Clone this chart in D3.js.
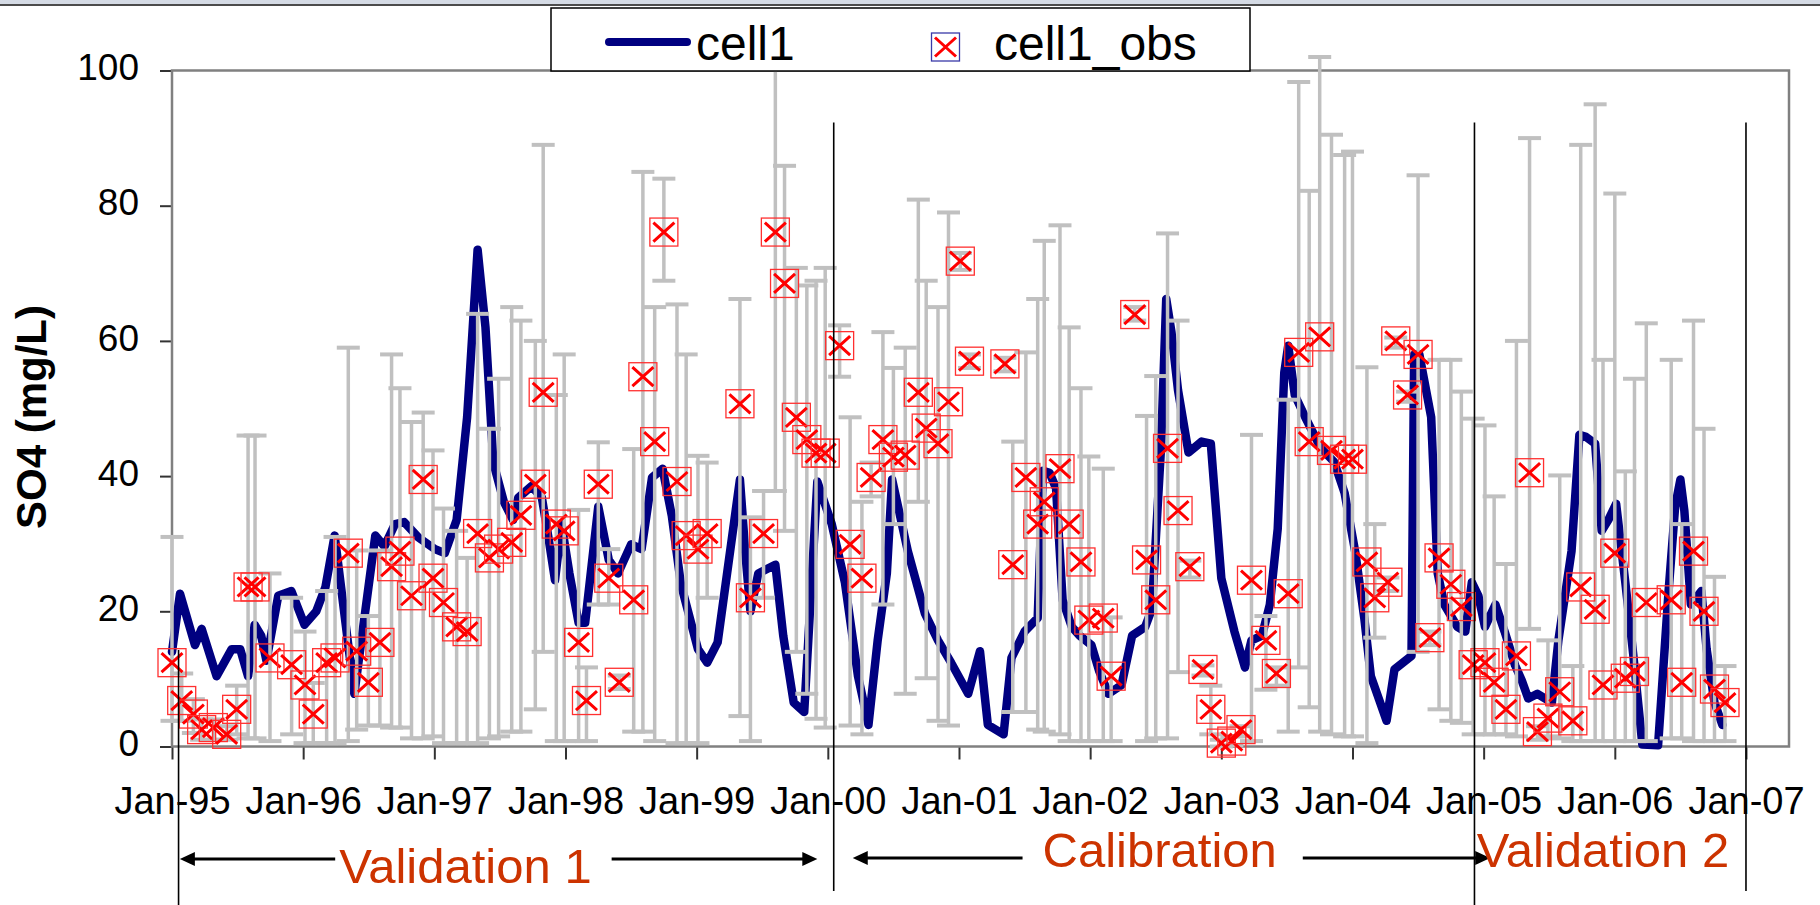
<!DOCTYPE html>
<html>
<head>
<meta charset="utf-8">
<script src="https://cdn.jsdelivr.net/npm/d3@7/dist/d3.min.js"></script>
<style>
  body { margin: 0; background: #fff; }
  svg { display: block; font-family: "Liberation Sans", Arial, sans-serif; }
</style>
</head>
<body>
<script>
// time is in years since Jan-95, values are SO4 in mg/L

// simulated series "cell1"
var modelT = [0.0, 0.061, 0.175, 0.226, 0.34, 0.455, 0.52, 0.58, 0.63, 0.68, 0.72, 0.81, 0.91, 1.01, 1.1, 1.17, 1.24,
  1.39, 1.55, 1.62, 1.7, 1.77, 1.88, 2.005, 2.08, 2.17, 2.25, 2.33, 2.39, 2.45, 2.53, 2.6, 2.64, 2.74, 2.82, 2.87,
  2.92, 2.97, 3.03, 3.1, 3.15, 3.25, 3.33, 3.4, 3.5, 3.58, 3.66, 3.74, 3.81, 3.88, 4.01, 4.08, 4.16, 4.33, 4.37,
  4.41, 4.47, 4.6, 4.66, 4.74, 4.82, 4.92, 5.03, 5.13, 5.23, 5.31, 5.38, 5.45, 5.49, 5.61, 5.74, 5.84, 5.94, 6.07,
  6.16, 6.22, 6.34, 6.4, 6.5, 6.6, 6.64, 6.69, 6.74, 6.79, 6.86, 6.92, 7.01, 7.07, 7.14, 7.24, 7.32, 7.42, 7.47,
  7.54, 7.58, 7.62, 7.67, 7.75, 7.85, 7.92, 8.0, 8.1, 8.18, 8.23, 8.31, 8.37, 8.43, 8.48, 8.51, 8.56, 8.64, 8.76,
  8.86, 8.94, 9.02, 9.09, 9.14, 9.26, 9.32, 9.45, 9.47, 9.51, 9.6, 9.65, 9.7, 9.8, 9.86, 9.91, 9.96, 10.01, 10.09,
  10.16, 10.24, 10.29, 10.34, 10.41, 10.52, 10.57, 10.67, 10.73, 10.78, 10.85, 10.9, 10.95, 11.01, 11.08, 11.14,
  11.21, 11.33, 11.41, 11.46, 11.5, 11.53, 11.58, 11.66, 11.7, 11.76, 11.82];
var modelV = [14, 22.6, 15, 17.4, 10.4, 14.4, 14.4, 10.4, 18, 16.4, 12.7, 22.3, 23, 18, 20, 23.6, 31.2,
  7.8, 31.2, 29.6, 32.9, 33.2, 30.9, 29.2, 28.6, 33.5, 48.7, 73.5, 62, 42, 36.2, 33.5, 36.8, 38.5, 36.8, 30.9,
  24.6, 32.9, 25.6, 18.3, 18.3, 35.5, 27.6, 25.6, 29.9, 29.2, 39.8, 41.1, 34.2, 24, 14.4, 12.4, 15.4, 39.5, 28.9,
  20, 25.6, 26.9, 16.4, 6.5, 5.1, 39.2, 32.9, 24.3, 10.4, 3.2, 15.7, 25.6, 39.5, 28.9, 19.7, 15.7, 12.4, 7.8,
  14.1, 3.2, 1.8, 13.1, 17, 19, 40.8, 40.5, 38.2, 21.7, 17.7, 16.4, 15, 11.1, 7.8, 9.1, 16.4, 17.7, 20.3,
  44.1, 66.2, 61.3, 52.7, 43.5, 45.1, 44.8, 24.9, 17, 11.7, 15.7, 16.4, 21, 32.2, 55.3, 59.3, 52, 48.7, 44.1,
  42.1, 37.5, 28.9, 19, 10.4, 3.8, 11.4, 13.4, 58, 58, 48.7, 25.6, 21, 17.7, 17, 24.3, 22.3, 17.7, 21,
  17, 12, 9.8, 7.1, 7.8, 6.5, 15.7, 28.9, 46.1, 45.8, 44.8, 31.9, 33.5, 35.9, 24.3, 13.7,
  0.3, 0.2, 23, 35.5, 39.5, 34.9, 21, 23, 14.4, 6.5, 3.2];

// observed series "cell1_obs" with error bar ends
var obsT = [0.0, 0.074, 0.163, 0.226, 0.315, 0.417, 0.493, 0.58, 0.633, 0.747, 0.912, 1.014, 1.077, 1.179, 1.243,
  1.344, 1.408, 1.497, 1.585, 1.674, 1.738, 1.826, 1.915, 1.99, 2.07, 2.17, 2.25, 2.33, 2.42, 2.49, 2.59, 2.66,
  2.77, 2.83, 2.93, 2.99, 3.1, 3.16, 3.25, 3.33, 3.41, 3.52, 3.59, 3.68, 3.75, 3.85, 3.92, 4.01, 4.08, 4.33, 4.41,
  4.51, 4.6, 4.67, 4.76, 4.84, 4.91, 4.98, 5.09, 5.17, 5.26, 5.33, 5.42, 5.5, 5.59, 5.69, 5.75, 5.84, 5.92, 6.01,
  6.08, 6.35, 6.41, 6.51, 6.6, 6.65, 6.77, 6.84, 6.93, 6.99, 7.1, 7.16, 7.34, 7.43, 7.5, 7.59, 7.67, 7.76, 7.86,
  7.92, 8.0, 8.08, 8.15, 8.23, 8.34, 8.42, 8.51, 8.59, 8.67, 8.75, 8.84, 8.94, 9.0, 9.11, 9.17, 9.27, 9.33, 9.42,
  9.5, 9.59, 9.66, 9.75, 9.83, 9.92, 10.01, 10.08, 10.17, 10.25, 10.35, 10.41, 10.49, 10.58, 10.68, 10.74, 10.85,
  10.91, 11.0, 11.08, 11.15, 11.24, 11.43, 11.51, 11.6, 11.68, 11.76, 11.84];
var obsV = [12.4, 6.8, 4.8, 2.5, 2.8, 1.8, 5.5, 23.6, 23.6, 13.1, 12.1, 9.1, 4.8, 12.4, 13.1,
  28.6, 14.1, 9.5, 15.4, 26.6, 28.9, 22.3, 39.5, 24.9, 21.3, 17.7, 17, 31.5, 27.9, 29.2, 30.2, 34.2,
  38.8, 52.4, 32.9, 31.9, 15.4, 6.8, 38.8, 24.9, 9.5, 21.7, 54.7, 45.1, 76.1, 39.2, 31.2, 29.2, 31.5, 50.7, 22,
  31.5, 76.1, 68.5, 48.7, 45.4, 43.4, 43.4, 59.3, 29.9, 24.9, 39.8, 45.4, 42.8, 43.1, 52.4, 47.1, 44.8, 51, 71.8,
  57, 56.6, 26.9, 39.8, 32.9, 36.2, 41.1, 32.9, 27.3, 18.7, 19, 10.4, 63.9, 27.6, 21.7, 44.1, 34.9, 26.6, 11.4,
  5.5, 0.5, 0.8, 2.5, 24.6, 15.7, 10.8, 22.6, 58.3, 45.1, 60.6, 43.8, 42.5, 42.5, 27.3, 22, 24.3, 60, 52,
  58, 16.1, 27.9, 24, 20.7, 12.1, 12.4, 9.5, 5.5, 13.4, 40.5, 2.2, 4.2, 8.1, 3.8, 23.6, 20.3,
  9.1, 28.6, 10.1, 11.1, 21.3, 21.7, 9.5, 28.9, 20, 8.5, 6.5];
var obsHi = [31, 10.8, 7, 4, 4, 3, 9, 46, 46, 25.6, 22, 17, 9.4, 23, 31,
  59, 29, 19.3, 29, 58, 53, 48, 49.4, 43.8, 35.2, 31.9, 27.9, 64, 47, 54.4, 65, 63,
  60, 89, 52, 58, 35, 11.7, 45, 29.2, 10.5, 44, 85, 65, 84, 65.4, 58, 43, 42, 66.2, 33.9,
  37.8, 100.5, 85.9, 70.8, 68.2, 68.9, 70.8, 62.3, 48.7, 36.2, 42, 61.3, 56, 59, 80.9, 68.9, 65, 79, 73,
  58, 57.5, 45.1, 58.3, 66.2, 74.8, 77.1, 62, 53, 42.9, 41.1, 19.1, 65, 48.9, 54.8, 75.9, 63, 27.5, 12,
  9, 1, 1.5, 3, 46.1, 19.3, 11.7, 51.3, 98.3, 82.2, 102, 90.5, 87.5, 88, 56.1, 32.9, 25, 60.5, 52.5,
  84.5, 17, 57.2, 57.2, 52.5, 48.5, 47.5, 37, 27, 60, 90, 3, 15.7, 40.1, 11.9, 89, 95,
  57.2, 81.8, 40.7, 54.4, 62.6, 57.2, 32.9, 63, 47, 25.1, 11.9];
var obsLo = [3.8, 3.8, 2, 1, 1, 1, 1.8, 1.2, 1.2, 0.8, 1.8, 0.5, 0.5, 0.5, 0.5,
  0.8, 2.5, 3.1, 3.1, 2.8, 2.8, 1.2, 1.2, 1.5, 0.5, 0.5, 0.5, 0.5, 1.2, 1.5, 2.2, 2.2,
  5.5, 14, 0.8, 0.8, 0.8, 0.8, 21, 21, 8.5, 2.2, 2.2, 0.8, 68.9, 0.5, 0.5, 0.5, 22, 4.5, 0.8,
  22, 37.8, 31.9, 14, 7.8, 4.1, 2.8, 54.7, 3.1, 1.8, 37, 21, 32.9, 7.8, 36.2, 10.1, 3.8, 3.1, 70.5,
  56, 55.5, 5.1, 5.1, 2.5, 2.2, 1.8, 0.8, 0.8, 0.8, 0.8, 0.8, 63, 0.8, 1.2, 1.2, 11, 25, 10.5,
  1.8, 0, 0.2, 1.5, 0.8, 8.4, 9, 2.2, 11.7, 5.8, 2.2, 1.8, 1.5, 1.5, 0.5, 16.1, 23, 59, 51,
  14, 15, 5.5, 3.8, 3.5, 1.8, 1.8, 1.8, 1.8, 1.5, 17.4, 1, 1.5, 1.2, 0.8, 0.8, 0.8,
  0.8, 0.8, 0.8, 0.8, 0.8, 1.2, 1.2, 0.8, 0.8, 0.8, 0.8];

var xTickT = [0, 1, 2, 3, 4, 5, 6, 7, 8, 9, 10, 11, 12];
var xTickLabels = ["Jan-95", "Jan-96", "Jan-97", "Jan-98", "Jan-99", "Jan-00", "Jan-01",
  "Jan-02", "Jan-03", "Jan-04", "Jan-05", "Jan-06", "Jan-07"];
var yTicks = [0, 20, 40, 60, 80, 100];

// period dividers and labels
var dividerT = [0.05, 5.045, 9.93, 12.0];
var periodNames = ["Validation 1", "Calibration", "Validation 2"];
var periodMid = [2.237, 7.53, 10.91];
var periodFrom = [0.06, 5.19, null];
var periodTo = [4.92, 10.05, null];

var W = 1820, H = 905;
var plotL = 172, plotR = 1789, plotT = 70.5, plotB = 746.5;

var svg = d3.select("body").append("svg")
  .attr("width", W)
  .attr("height", H);

var x = d3.scaleLinear().domain([0, 12.328]).range([plotL, plotR]);
var y = d3.scaleLinear().domain([0, 100]).range([plotB, plotT]);

// window strip at the very top
svg.append("rect").attr("x", 0).attr("y", 0).attr("width", W).attr("height", 4).attr("fill", "#d5dbe5");
svg.append("line").attr("x1", 0).attr("x2", W).attr("y1", 5).attr("y2", 5)
  .attr("stroke", "#111").attr("stroke-width", 1.5);

// axes
var yAxis = svg.append("g")
  .attr("transform", "translate(" + plotL + ",0)")
  .call(d3.axisLeft(y).tickValues(yTicks).tickSize(12).tickPadding(21));
yAxis.select(".domain").remove();
yAxis.selectAll(".tick line").attr("stroke", "#333").attr("stroke-width", 2);
yAxis.selectAll(".tick text").attr("font-size", 37).attr("fill", "#000").attr("dy", "0.25em")
  .attr("font-family", "Liberation Sans, Arial, sans-serif");

var xAxis = svg.append("g")
  .attr("transform", "translate(0," + plotB + ")")
  .call(d3.axisBottom(x).tickValues(xTickT).tickSize(13).tickPadding(28)
    .tickFormat(function(d, i) { return xTickLabels[i]; }));
xAxis.select(".domain").remove();
xAxis.selectAll(".tick line").attr("stroke", "#333").attr("stroke-width", 2);
xAxis.selectAll(".tick text").attr("font-size", 38).attr("fill", "#000")
  .attr("font-family", "Liberation Sans, Arial, sans-serif");

// plot frame
svg.append("rect")
  .attr("x", plotL).attr("y", plotT)
  .attr("width", plotR - plotL).attr("height", plotB - plotT)
  .attr("fill", "none").attr("stroke", "#808080").attr("stroke-width", 2.5);

// y title
svg.append("text")
  .attr("transform", "translate(46,417) rotate(-90)")
  .attr("text-anchor", "middle")
  .attr("font-size", 42).attr("font-weight", "bold")
  .text("SO4 (mg/L)");

// model line
var line = d3.line()
  .x(function(d, i) { return x(modelT[i]); })
  .y(function(d) { return y(d); });

svg.append("path")
  .attr("d", line(modelV))
  .attr("fill", "none")
  .attr("stroke", "#000080")
  .attr("stroke-width", 8.5)
  .attr("stroke-linejoin", "round")
  .attr("stroke-linecap", "round");

// error bars
var bars = svg.append("g").attr("stroke", "#c0c0c0");
obsT.forEach(function(t, i) {
  var cx = x(t);
  bars.append("line").attr("x1", cx).attr("x2", cx)
    .attr("y1", y(obsHi[i])).attr("y2", y(obsLo[i])).attr("stroke-width", 3.5);
  [obsHi[i], obsLo[i]].forEach(function(v) {
    bars.append("line").attr("x1", cx - 11.5).attr("x2", cx + 11.5)
      .attr("y1", y(v)).attr("y2", y(v)).attr("stroke-width", 4);
  });
});

// observation markers
function drawMarker(g, boxColor) {
  g.append("rect").attr("x", -14).attr("y", -14).attr("width", 28).attr("height", 28)
    .attr("fill", "none").attr("stroke", boxColor).attr("stroke-width", 1.3);
  g.append("path").attr("d", "M-10.5,-9.5L10.5,9.5M-10.5,9.5L10.5,-9.5")
    .attr("stroke", "#ff0000").attr("stroke-width", 3).attr("fill", "none");
}
obsT.forEach(function(t, i) {
  var g = svg.append("g").attr("transform", "translate(" + x(t) + "," + y(obsV[i]) + ")");
  drawMarker(g, "#ff3030");
});

// period dividers
dividerT.forEach(function(t, i) {
  var y1 = i === 0 ? 650 : 122.5;
  var y2 = (i === 0 || i === 2) ? H : 891;
  svg.append("line").attr("x1", x(t)).attr("x2", x(t)).attr("y1", y1).attr("y2", y2)
    .attr("stroke", "#000").attr("stroke-width", 1.6);
});

// period labels with arrows
periodNames.forEach(function(name, i) {
  var baseY = i === 0 ? 883 : 867;
  var arrowY = i === 0 ? 859 : 858;
  var txt = svg.append("text")
    .attr("x", x(periodMid[i])).attr("y", baseY)
    .attr("text-anchor", "middle")
    .attr("font-size", 49).attr("fill", "#cc3300")
    .text(name);
  if (periodFrom[i] === null) return;
  var bb = txt.node().getBBox();
  var x1 = x(periodFrom[i]), x2 = x(periodTo[i]);
  var gapL = bb.x - (i === 0 ? 4 : 20), gapR = bb.x + bb.width + (i === 0 ? 20 : 26);
  svg.append("line").attr("x1", x1 + 10).attr("x2", gapL).attr("y1", arrowY).attr("y2", arrowY)
    .attr("stroke", "#000").attr("stroke-width", 3);
  svg.append("line").attr("x1", gapR).attr("x2", x2 - 10).attr("y1", arrowY).attr("y2", arrowY)
    .attr("stroke", "#000").attr("stroke-width", 3);
  svg.append("path")
    .attr("d", "M" + x1 + "," + arrowY + "l15,-7v14z")
    .attr("fill", "#000");
  svg.append("path")
    .attr("d", "M" + x2 + "," + arrowY + "l-15,-7v14z")
    .attr("fill", "#000");
});

// legend
var lg = svg.append("g");
lg.append("rect").attr("x", 551).attr("y", 8).attr("width", 699).attr("height", 63)
  .attr("fill", "#fff").attr("stroke", "#000").attr("stroke-width", 1.5);
lg.append("line").attr("x1", 609).attr("x2", 687).attr("y1", 42).attr("y2", 42)
  .attr("stroke", "#000080").attr("stroke-width", 8).attr("stroke-linecap", "round");
lg.append("text").attr("x", 696).attr("y", 60).attr("font-size", 48).text("cell1");
var lm = lg.append("g").attr("transform", "translate(945.5,47)");
drawMarker(lm, "#3a3aa8");
lg.append("text").attr("x", 994).attr("y", 60).attr("font-size", 48).text("cell1_obs");
</script>
</body>
</html>
